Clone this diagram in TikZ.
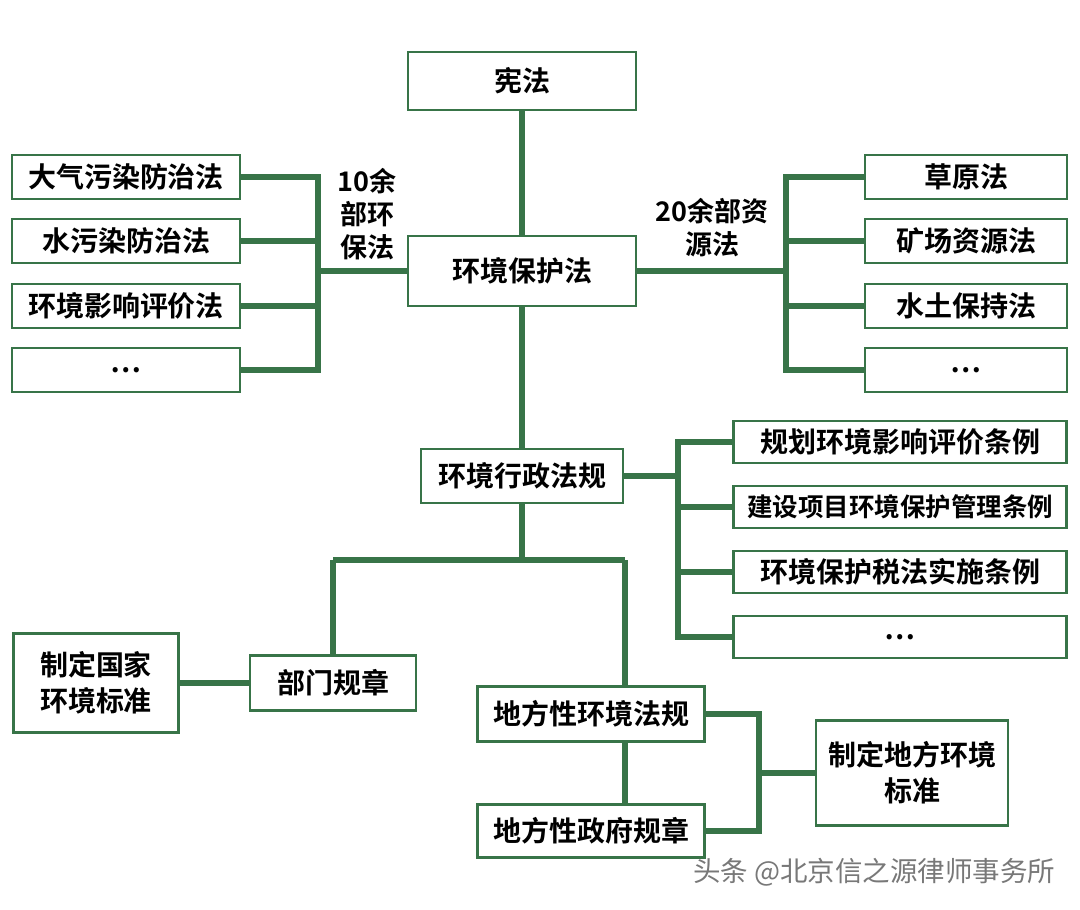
\documentclass[tikz,border=0pt]{standalone}
\usepackage{fontspec}
\setmainfont{Noto Sans CJK SC}[BoldFont={Noto Sans CJK SC Bold}]
\definecolor{lgreen}{RGB}{56,116,72}
\definecolor{wmgray}{RGB}{120,120,120}
\tikzset{
  box/.style={draw=lgreen, line width=2.6pt, fill=white, inner sep=0pt, align=center,
    font=\fontsize{28}{36}\selectfont\bfseries},
  conn/.style={draw=lgreen, line width=5.5pt},
  lbl/.style={align=center, font=\fontsize{27}{33}\selectfont\bfseries, inner sep=0pt}
}
\begin{document}
\begin{tikzpicture}[x=1pt,y=-1pt]
\useasboundingbox (0,0) rectangle (1080,910);
\coordinate (lb1) at (318,177);
\coordinate (lb2) at (318,370);
\coordinate (rb1) at (786,177);
\coordinate (rb2) at (786,370);
\coordinate (qb1) at (678,442);
\coordinate (qb2) at (678,637);
\coordinate (j0) at (522,560);
\coordinate (j1) at (333,560);
\coordinate (j2) at (625,560);
\coordinate (db1) at (759,714);
\coordinate (db2) at (759,831);

\node[box, minimum width=228pt, minimum height=58pt] (xian) at (522,81) {宪法};
\node[box, minimum width=228pt, minimum height=70pt] (hbf) at (522,271) {环境保护法};
\node[box, minimum width=228pt, minimum height=44pt] (L1) at (126,177) {大气污染防治法};
\node[box, minimum width=228pt, minimum height=44pt] (L2) at (126,241) {水污染防治法};
\node[box, minimum width=228pt, minimum height=44pt] (L3) at (126,306) {环境影响评价法};
\node[box, minimum width=228pt, minimum height=44pt] (L4) at (126,370) {…};
\node[box, minimum width=202pt, minimum height=44pt] (R1) at (966,177) {草原法};
\node[box, minimum width=202pt, minimum height=44pt] (R2) at (966,241) {矿场资源法};
\node[box, minimum width=202pt, minimum height=44pt] (R3) at (966,306) {水土保持法};
\node[box, minimum width=202pt, minimum height=44pt] (R4) at (966,370) {…};
\node[box, minimum width=202pt, minimum height=54pt] (xz) at (522,476) {环境行政法规};
\node[box, minimum width=333pt, minimum height=42pt] (Q1) at (900,442) {规划环境影响评价条例};
\node[box, minimum width=333pt, minimum height=42pt, font=\fontsize{25.5}{30}\selectfont\bfseries] (Q2) at (900,507) {建设项目环境保护管理条例};
\node[box, minimum width=333pt, minimum height=42pt] (Q3) at (900,572) {环境保护税法实施条例};
\node[box, minimum width=333pt, minimum height=42pt] (Q4) at (900,637) {…};
\node[box, minimum width=166pt, minimum height=55pt] (bm) at (333,683) {部门规章};
\node[box, minimum width=165pt, minimum height=99pt] (gj) at (96,683) {制定国家\\环境标准};
\node[box, minimum width=227pt, minimum height=55pt] (df1) at (591,714) {地方性环境法规};
\node[box, minimum width=227pt, minimum height=53pt] (df2) at (591,831) {地方性政府规章};
\node[box, minimum width=192pt, minimum height=105pt] (dfbz) at (912,773) {制定地方环境\\标准};

\node[lbl] (lab10) at (367,214) {10余\\部环\\保法};
\node[lbl] (lab20) at (712,228) {20余部资\\源法};

\node[anchor=west, inner sep=0pt, text=wmgray, font=\fontsize{27.5}{30}\selectfont] (wm) at (693,872) {头条 @北京信之源律师事务所};

\draw[conn] (xian.south) -- (hbf.north);
\draw[conn] (L1.east) -- (lb1) -- (lb2) -- (L4.east);
\draw[conn] (L2.east) -- (L2.east -| lb1);
\draw[conn] (L3.east) -- (L3.east -| lb1);
\draw[conn] (hbf.west) -- (hbf.west -| lb1);
\draw[conn] (R1.west) -- (rb1) -- (rb2) -- (R4.west);
\draw[conn] (R2.west) -- (R2.west -| rb1);
\draw[conn] (R3.west) -- (R3.west -| rb1);
\draw[conn] (hbf.east) -- (hbf.east -| rb1);
\draw[conn] (hbf.south) -- (xz.north);
\draw[conn] (Q1.west) -- (qb1) -- (qb2) -- (Q4.west);
\draw[conn] (Q2.west) -- (Q2.west -| qb1);
\draw[conn] (Q3.west) -- (Q3.west -| qb1);
\draw[conn] (xz.east) -- (xz.east -| qb1);
\draw[conn] (xz.south) -- (j0);
\draw[conn] (j1) -- (j2);
\draw[conn] (j1) -- (bm.north);
\draw[conn] (j2) -- (j2 |- df1.north);
\draw[conn] (df1.south -| j2) -- (df2.north -| j2);
\draw[conn] (df1.east) -- (db1) -- (db2) -- (df2.east);
\draw[conn] (dfbz.west -| db1) -- (dfbz.west);
\draw[conn] (bm.west) -- (gj.east);
\end{tikzpicture}
\end{document}
